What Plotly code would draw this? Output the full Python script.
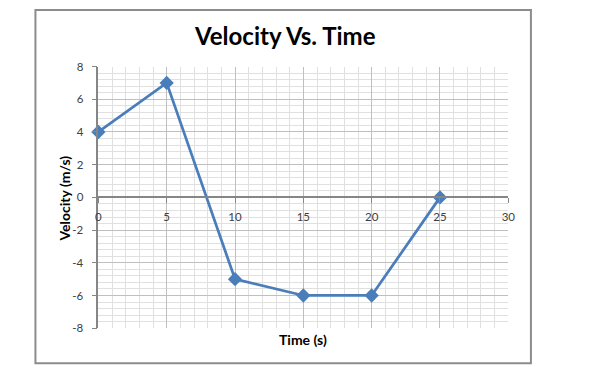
import plotly.graph_objects as go

time_s = [0, 5, 10, 15, 20, 25]
velocity = [4, 7, -5, -6, -6, 0]
x_ticks = [0, 5, 10, 15, 20, 25, 30]
x_labels = ["0", "5", "10", "15", "20", "25", "30"]
y_ticks = [-8, -6, -4, -2, 0, 2, 4, 6, 8]
y_labels = ["-8", "-6", "-4", "-2", "0", "2", "4", "6", "8"]

W, H = 592, 376
FONT = "Lato, Open Sans, sans-serif"

x_dom = [97 / W, 514 / W]
y_dom = [1 - 332.7 / H, 1 - 61.7 / H]
y_mid = (y_dom[0] + y_dom[1]) / 2

fig = go.Figure()
fig.add_trace(go.Scatter(
    x=time_s, y=velocity, mode="lines+markers",
    line=dict(color="#4A7EBB", width=2.75),
    marker=dict(symbol="diamond", size=11, color="#4A7EBB"),
    cliponaxis=False, showlegend=False,
))

fig.update_layout(
    width=W, height=H,
    margin=dict(l=0, r=0, t=0, b=0),
    paper_bgcolor="white", plot_bgcolor="white",
    font=dict(family=FONT, size=11, color="#595959"),
    xaxis=dict(
        domain=x_dom, range=[0, 30], anchor="free", position=y_mid,
        tickvals=x_ticks, ticktext=x_labels,
        showline=True, linecolor="#868686", linewidth=1.5,
        ticks="outside", ticklen=5, tickcolor="#868686",
        showgrid=True, gridcolor="#BFBFBF", gridwidth=1,
        minor=dict(dtick=1, tick0=0, showgrid=True, gridcolor="#E0E0E0", gridwidth=1),
        zeroline=False, ticklabelstandoff=4,
        tickfont=dict(size=11.5, color="#404040"),
    ),
    yaxis=dict(
        domain=y_dom, range=[-8, 8],
        tickvals=y_ticks, ticktext=y_labels,
        showline=True, linecolor="#868686", linewidth=1.5,
        ticks="outside", ticklen=5, tickcolor="#868686",
        showgrid=True, gridcolor="#BFBFBF", gridwidth=1,
        minor=dict(dtick=0.4, tick0=0, showgrid=True, gridcolor="#E0E0E0", gridwidth=1),
        zeroline=False, ticklabelstandoff=6,
        tickfont=dict(size=11.5, color="#404040"),
    ),
    annotations=[
        dict(text="<b>Velocity Vs. Time</b>", x=287 / W, y=1 - 30 / H,
             xref="paper", yref="paper", showarrow=False,
             xanchor="center", yanchor="middle",
             font=dict(family=FONT, size=24, color="#000000")),
        dict(text="<b>Time (s)</b>", x=305.5 / W, y=1 - 344 / H,
             xref="paper", yref="paper", showarrow=False,
             xanchor="center", yanchor="middle",
             font=dict(family=FONT, size=14, color="#000000")),
        dict(text="<b>Velocity (m/s)</b>", x=62.5 / W, y=1 - 198 / H,
             xref="paper", yref="paper", showarrow=False, textangle=-90,
             xanchor="center", yanchor="middle",
             font=dict(family=FONT, size=14, color="#000000")),
    ],
    shapes=[
        dict(type="rect", xref="paper", yref="paper",
             x0=33 / W, x1=537 / W, y0=1 - 369 / H, y1=1 - 3 / H,
             line=dict(color="#8C8C8C", width=2), fillcolor="rgba(0,0,0,0)",
             layer="below"),
    ],
)

fig.write_html(
    "out.html",
    config={"displayModeBar": False},
    post_script="document.body.style.margin='0';document.body.style.overflow='hidden';",
)
